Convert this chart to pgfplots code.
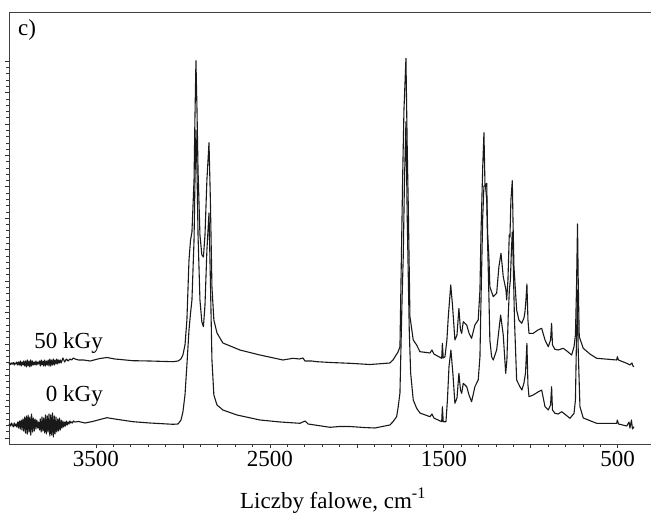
\documentclass[border=0pt]{standalone}
\usepackage{pgfplots}
\pgfplotsset{compat=1.18}
\usepackage{fontspec}
\setmainfont{Liberation Serif}

\pgfplotstableread{
v y
4000 80
3995 81
3990 79.5
3985 81
3980 80
3975 81.5
3970 79
3965 81
3960 80
3955 82
3950 79
3945 82
3940 79
3935 83
3930 78
3925 82
3920 79
3915 83
3910 78
3905 83
3900 77
3895 84
3890 78
3885 83
3880 77
3875 84
3870 78
3865 83
3860 79
3855 82
3850 79
3845 83
3840 79
3835 82
3830 80
3825 83
3820 78
3815 84
3810 79
3805 83
3800 78
3795 84
3790 78
3785 83
3780 79
3775 84
3770 78
3765 85
3760 78
3755 84
3750 79
3745 85
3740 79
3735 84
3730 80
3725 85
3720 80
3715 84
3710 81
3705 84
3700 81
3690 86
3680 82
3670 85
3660 83
3650 85
3640 84
3630 86
3620 85
3600 84
3570 84
3534 83
3477 85.5
3437 86.5
3391 85
3287 83.3
3190 83
3057 82.3
3028 83
3011 85
3000 89
2988 99
2977 124
2965 184
2956 204
2948 212
2936 264
2931 324
2925 383.3
2919 334
2913 274
2902 209
2891 189
2882 187
2873 209
2862 264
2850 301.3
2842 244
2833 157
2822 124
2804 111
2770 101
2672 94
2557 89
2425 84
2367 85.7
2330 85
2310 86
2298 83
2260 83
2229 82.3
2150 81.5
2040 80.7
1924 79.5
1810 81
1792 84
1763 92
1752 97.3
1736 271
1729 334
1717.5 385.7
1710 294
1704 237.3
1694.5 127.3
1675.5 104
1656 99
1637 92.3
1600 91.5
1579.5 91
1568 94
1557 90
1512 85.7
1508 100.7
1503 86
1493 87.3
1482 104
1474 127.3
1460 159
1450 139
1436 104
1424 109
1413 135.7
1404 114
1397 110.7
1388 122.3
1368 119
1355 111
1340 105.7
1321 119
1302 124
1292 154
1286 211
1276 277.3
1269 311.3
1263 258
1253 260.7
1248 211
1240 184
1235 157.3
1215.5 147.3
1196 150.7
1183 177.3
1171 190.7
1158 167.3
1142.5 154
1138.5 144
1131 164
1123.5 209
1119.5 207
1114 244
1106 263.3
1102 224
1096.5 177.3
1081 134
1068 124
1052 120.7
1039 126
1033 132.3
1027.5 144
1022 160
1016 124
1010 110.7
985.5 110.7
958.5 114
937 115.7
918 104
899 97.3
886 104
880 120.7
875 99
861 94.7
842 94
813 95.7
792 93
765 89
751 97.3
743 109
737 154
731 220
727 164
721 107.3
698 95.7
659.5 90
621 85.7
573 85
506 84
502 87.3
495.5 84
448 80.7
429.5 79
418 81
412 78
406.5 77.3
}\specHigh

\pgfplotstableread{
v y
4000 19
3995 20
3990 18
3985 21
3980 19
3975 17
3970 21
3965 18
3960 20
3955 17
3950 22
3945 16
3940 23
3935 15
3930 24
3925 14
3920 25
3915 13
3910 27
3905 11
3900 28
3895 10
3890 29
3885 12
3880 27
3875 9
3870 30
3865 12
3860 26
3855 13
3850 25
3845 15
3840 24
3835 16
3830 22
3825 14
3820 25
3815 12
3810 27
3805 13
3800 26
3795 11
3790 29
3785 10
3780 28
3775 12
3770 30
3765 8
3760 29
3755 9
3750 31
3745 7
3740 28
3735 10
3730 27
3725 12
3720 25
3715 13
3710 26
3705 14
3700 24
3695 16
3690 23
3685 17
3680 22
3675 18
3670 23
3665 19
3660 22
3655 20
3650 23
3645 21
3640 22
3635 21
3630 23
3620 22
3600 22.5
3563 21
3520 22.5
3477 24.5
3437 26.3
3391 25
3287 22.3
3190 21
3057 19.7
3028 20
3011 24
3000 32
2988 49
2977 79
2965 114
2956 131
2948 144
2936 204
2931 259
2925 314
2919 274
2913 209
2902 144
2891 122
2882 117.3
2873 139
2862 194
2850 231
2842 164
2833 84
2822 49
2804 39
2770 34
2689 29
2557 24
2440 22
2327 20.7
2298 23
2280 20
2154 16.7
2100 17.5
2040 17.5
1960 16.5
1896 16
1810 19
1792 22.3
1771 27.3
1762 37.3
1752 51
1740 144
1733 187.3
1726 264
1717.5 322.3
1710 224
1698.5 114
1690.5 71
1675.5 44
1656 35.7
1637 31
1579.5 27.3
1568 30
1557 26
1512 22.3
1508 37.3
1503 22.3
1487.5 22.3
1479 44
1470 77.3
1459 94
1447 69
1436 40.7
1424 46
1413 70.7
1404 54
1397 50.7
1388 60.7
1368 57.3
1355 49
1340 42.3
1321 57.3
1302 64
1292 87.3
1286 144
1276 227.3
1269 258
1260 258
1253 244
1248 201
1240 144
1235 104
1225 87.3
1215.5 84
1196 94
1183 114
1173 129
1158 109
1144 70.7
1137 84
1129.5 127.3
1123 154
1117 164
1111 194
1106 212
1101 184
1093.5 124
1081 64
1062 57.3
1050.5 54
1039 61
1030 71
1022 100.7
1016 59
1010 47.3
985.5 49
958.5 52
937 54
918 37.3
899 34
886 39
880 57.3
875 34
861 30.7
842 30
822 32.3
797.5 29
774.5 25.7
751 30.7
743 44
737 104
731 154
727 94
717 37.3
698 26
621 20.7
506 20.7
502 24
495.5 20
448 18
435 22
429.5 16
421 24
415 15
406.5 17.3
}\specLow

\begin{document}
\begin{tikzpicture}
\begin{axis}[
  at={(0pt,0pt)}, anchor=south west,
  scale only axis, width=648pt, height=432pt,
  xmin=274, xmax=4000, x dir=reverse,
  ymin=0, ymax=432,
  axis line style={black!75, line width=0.9pt},
  tick align=outside,
  xtick={500,1500,2500,3500},
  extra x ticks={1000,2000,3000},
  extra x tick labels={},
  minor x tick num=9,
  xtick pos=left, ytick pos=left,
  ytick={6,37.4,...,383},
  yticklabels={},
  minor y tick num=4,
  major tick length=4pt, minor tick length=2.5pt,
  every tick/.style={black!80, line width=0.6pt},
  /pgf/number format/assume math mode=true,
  /pgf/number format/1000 sep={},
  tick label style={font=\fontsize{23}{27}\selectfont},
  xlabel={Liczby falowe, cm\textsuperscript{-1}},
  xlabel style={font=\fontsize{23}{27}\selectfont, at={(axis description cs:0.5,0)}, anchor=base, yshift=-64pt},
  clip=false,
]
\addplot[black!90, line width=1.1pt, line join=round] table[x=v,y=y] {\specHigh};
\addplot[black!90, line width=1.1pt, line join=round] table[x=v,y=y] {\specLow};
\node[anchor=base east, font=\fontsize{23}{27}\selectfont] at (axis cs:3440,95.7) {50 kGy};
\node[anchor=base east, font=\fontsize{23}{27}\selectfont] at (axis cs:3440,42.3) {0 kGy};
\node[anchor=base west, font=\fontsize{23}{27}\selectfont, inner sep=0pt] at (axis cs:3948,408) {c)};
\end{axis}
\pgfresetboundingbox
\path[use as bounding box] (-9pt,-68pt) rectangle (642pt,444pt);
\end{tikzpicture}
\end{document}
